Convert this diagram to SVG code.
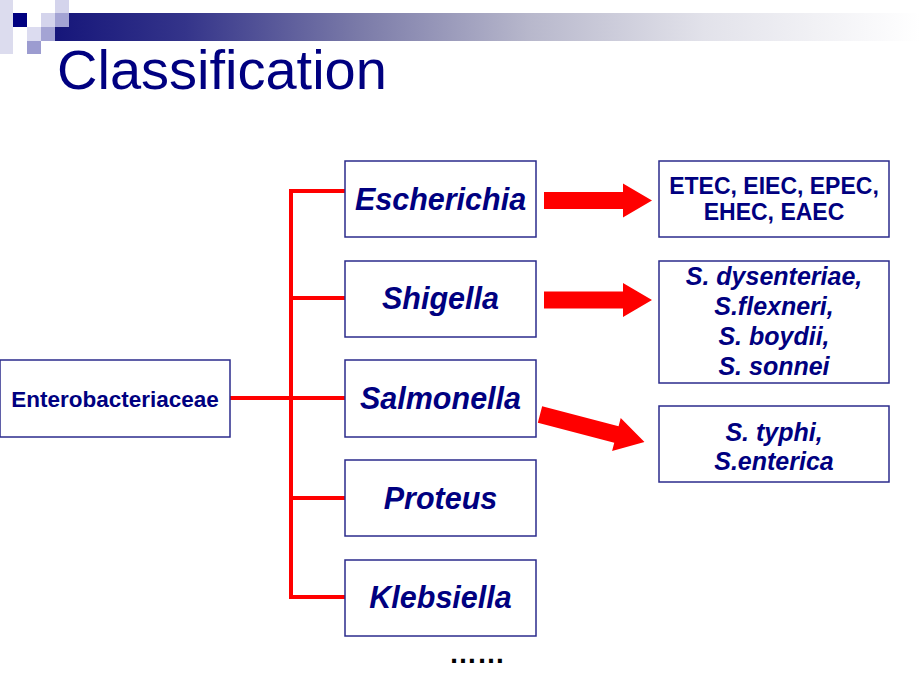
<svg xmlns="http://www.w3.org/2000/svg" width="920" height="690" viewBox="0 0 920 690">
  <defs>
    <linearGradient id="barGrad" x1="0" y1="0" x2="1" y2="0">
      <stop offset="0" stop-color="#16167a"/>
      <stop offset="0.15" stop-color="#34348a"/>
      <stop offset="0.35" stop-color="#7a7aa8"/>
      <stop offset="0.55" stop-color="#b8b8cc"/>
      <stop offset="0.75" stop-color="#e2e2ea"/>
      <stop offset="1" stop-color="#ffffff"/>
    </linearGradient>
    <path id="bigArrow" d="M0,-8.5 H79 V-17 L108,0 L79,17 V8.5 H0 Z"/>
  </defs>
  <style>
    .box { fill: #ffffff; stroke: #2b2b8c; stroke-width: 1.5; }
    .genus { font-family: "Liberation Sans", Arial, sans-serif; font-weight: bold; font-style: italic; font-size: 30.5px; fill: #000080; text-anchor: middle; }
    .root { font-family: "Liberation Sans", Arial, sans-serif; font-weight: bold; font-size: 22.5px; fill: #000080; text-anchor: middle; }
    .strain { font-family: "Liberation Sans", Arial, sans-serif; font-weight: bold; font-size: 23px; fill: #000080; text-anchor: middle; }
    .species { font-family: "Liberation Sans", Arial, sans-serif; font-weight: bold; font-style: italic; font-size: 25px; fill: #000080; text-anchor: middle; }
    .link { stroke: #ff0000; stroke-width: 4; fill: none; }
    .arrow { fill: #ff0000; }
  </style>
  <rect width="920" height="690" fill="#ffffff"/>

  <g id="header">
    <rect x="55" y="13" width="865" height="28" fill="url(#barGrad)"/>
    <rect x="0" y="0" width="13" height="54" fill="#dcdcee"/>
    <rect x="13" y="13" width="14" height="14" fill="#000080"/>
    <rect x="27" y="27" width="14" height="14" fill="#dcdcf0"/>
    <rect x="27" y="41" width="14" height="13" fill="#9c9cd0"/>
    <rect x="41" y="13" width="14" height="14" fill="#d4d4ec"/>
    <rect x="41" y="27" width="14" height="14" fill="#a4a4d4"/>
    <rect x="55" y="0" width="14" height="13" fill="#d4d4ec"/>
    <rect x="55" y="13" width="14" height="14" fill="#a4a4d4"/>
    <text x="57" y="89" font-family="'Liberation Sans', Arial, sans-serif" font-size="56" fill="#000080">Classification</text>
  </g>

  <g id="connectors">
    <line class="link" x1="291" y1="189" x2="291" y2="599"/>
    <line class="link" x1="289" y1="191" x2="345" y2="191"/>
    <line class="link" x1="291" y1="298" x2="345" y2="298"/>
    <line class="link" x1="230" y1="398" x2="345" y2="398"/>
    <line class="link" x1="291" y1="498" x2="345" y2="498"/>
    <line class="link" x1="289" y1="597" x2="345" y2="597"/>
    <use href="#bigArrow" class="arrow" transform="translate(544,200.5)"/>
    <use href="#bigArrow" class="arrow" transform="translate(544,300)"/>
    <use href="#bigArrow" class="arrow" transform="translate(540,414.5) rotate(14.7)"/>
  </g>

  <g id="enterobacteriaceae">
    <rect class="box" x="0" y="360" width="230" height="77"/>
    <text class="root" x="115" y="407">Enterobacteriaceae</text>
  </g>

  <g id="escherichia">
    <rect class="box" x="345" y="161" width="191" height="76"/>
    <text class="genus" x="440.5" y="210">Escherichia</text>
  </g>
  <g id="shigella">
    <rect class="box" x="345" y="261" width="191" height="76"/>
    <text class="genus" x="440.5" y="309">Shigella</text>
  </g>
  <g id="salmonella">
    <rect class="box" x="345" y="360" width="191" height="77"/>
    <text class="genus" x="440.5" y="409">Salmonella</text>
  </g>
  <g id="proteus">
    <rect class="box" x="345" y="460" width="191" height="76"/>
    <text class="genus" x="440.5" y="509">Proteus</text>
  </g>
  <g id="klebsiella">
    <rect class="box" x="345" y="560" width="191" height="76"/>
    <text class="genus" x="440.5" y="608">Klebsiella</text>
  </g>

  <g id="ecoli-types">
    <rect class="box" x="659" y="161" width="230" height="76"/>
    <text class="strain" x="774" y="194">ETEC, EIEC, EPEC,</text>
    <text class="strain" x="774" y="220">EHEC, EAEC</text>
  </g>
  <g id="shigella-species">
    <rect class="box" x="659" y="261" width="230" height="122"/>
    <text class="species" x="774" y="285">S. dysenteriae,</text>
    <text class="species" x="774" y="315">S.flexneri,</text>
    <text class="species" x="774" y="345">S. boydii,</text>
    <text class="species" x="774" y="375">S. sonnei</text>
  </g>
  <g id="salmonella-species">
    <rect class="box" x="659" y="406" width="230" height="76"/>
    <text class="species" x="774" y="441">S. typhi,</text>
    <text class="species" x="774" y="470">S.enterica</text>
  </g>

  <g id="more">
    <text x="477" y="663" font-family="'Liberation Sans', Arial, sans-serif" font-weight="bold" font-size="28" fill="#000000" text-anchor="middle">……</text>
  </g>
</svg>
